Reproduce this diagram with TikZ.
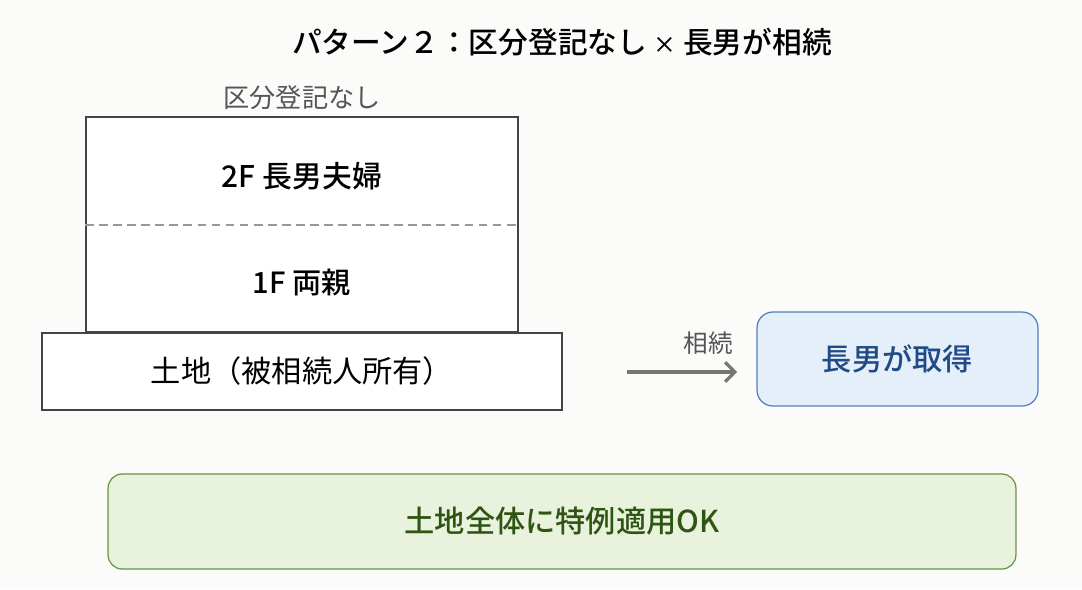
\documentclass[tikz,border=0pt]{standalone}
\usepackage{fontspec}
\setmainfont{Noto Sans CJK JP}
\newfontfamily\medfont{Noto Sans CJK JP Medium}
\usetikzlibrary{positioning,arrows.meta}

\definecolor{bgcol}{HTML}{FBFBF9}
\definecolor{linecol}{HTML}{444444}
\definecolor{graytext}{HTML}{555555}
\definecolor{arrowcol}{HTML}{777772}
\definecolor{bluefill}{HTML}{E5EFFA}
\definecolor{blueline}{HTML}{4F7EC0}
\definecolor{bluetext}{HTML}{1F4C86}
\definecolor{greenfill}{HTML}{E8F2DD}
\definecolor{greenline}{HTML}{6A9445}
\definecolor{greentext}{HTML}{2F5512}

\begin{document}
\begin{tikzpicture}[x=0.02cm, y=-0.02cm, every node/.style={font=\small},
  floorbox/.style={draw=linecol, line width=1.1pt, fill=white, inner sep=0pt},
  resultbox/.style={draw=blueline, line width=0.7pt, fill=bluefill, rounded corners=9pt, inner sep=0pt},
  okbox/.style={draw=greenline, line width=0.7pt, fill=greenfill, rounded corners=8pt, inner sep=0pt}]
		% Background
		\fill[bgcol] (0,0) rectangle (1082,589);
		\useasboundingbox (0,0) rectangle (1082,589);

		% Title
		\node[font=\fontsize{16.9}{20}\selectfont\medfont] (title) at (562,42) {パターン２：区分登記なし {\fontsize{13}{16}\selectfont ×} 長男が相続};

		% Building
		\node[floorbox, minimum width=8.64cm, minimum height=4.3cm] (bldg) at (302,224.5) {};
		\node[font=\fontsize{14.9}{18}\selectfont, text=graytext, above=0pt of bldg.north] (nosplit) {区分登記なし};
		\draw[draw=gray!80, line width=0.6pt, dash pattern=on 5pt off 3pt] (bldg.west |- 0,225) -- (bldg.east |- 0,225);
		\node[font=\fontsize{17}{20}\selectfont\medfont] (upper) at (302,176) {2F 長男夫婦};
		\node[font=\fontsize{16.6}{20}\selectfont\medfont] (lower) at (302,283) {1F 両親};

		% Land
		\node[floorbox, minimum width=10.4cm, minimum height=1.54cm, font=\fontsize{17.2}{20}\selectfont] (land) at (302,371.5) {土地（被相続人所有）};

		% Inheritance
		\coordinate (arrS) at (627,372);
		\coordinate (arrE) at (737,372);
		\draw[arrowcol, line width=1.8pt, -{Straight Barb[length=5.5pt, width=11pt]}] (arrS) -- (arrE);
		\node[font=\fontsize{14}{17}\selectfont, text=graytext] (inherit) at (708,343) {相続};
		\node[resultbox, minimum width=5.62cm, minimum height=1.88cm, font=\fontsize{17.2}{20}\selectfont\medfont, text=bluetext] (eldest) at (897.5,359) {\raisebox{-4pt}{長男が取得}};

		% Result
		\node[okbox, minimum width=18.16cm, minimum height=1.9cm, font=\fontsize{17.2}{20}\selectfont\medfont, text=greentext] (ok) at (562,521.5) {\raisebox{-4pt}{土地全体に特例適用OK}};
	\end{tikzpicture}
\end{document}
